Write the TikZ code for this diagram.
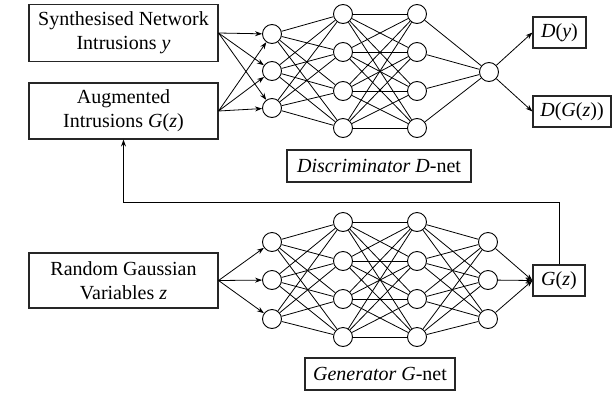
\documentclass[tikz,border=0pt]{standalone}
\usepackage{fontspec}
\setmainfont{Liberation Serif}
\usetikzlibrary{arrows.meta}
\begin{document}
\begin{tikzpicture}[x=1pt,y=-1pt, font=\fontsize{20}{24}\selectfont,
  box/.style={draw=black!85, line width=1.1pt, align=center, inner sep=0pt},
  neuron/.style={circle, draw, line width=0.9pt, minimum size=19pt, inner sep=0pt},
  link/.style={line width=0.8pt},
  arr/.style={line width=0.8pt, -{Stealth[length=7pt,width=5pt]}}]
\useasboundingbox (0,0) rectangle (613,394);
% boxes
\node[box, minimum width=189pt, minimum height=57pt] (b1) at (123.5,33) {Synthesised Network\\Intrusions \textit{y}};
\node[box, minimum width=189pt, minimum height=56pt] (b2) at (123.5,111) {Augmented\\Intrusions \textit{G}(\textit{z})};
\node[box, minimum width=189pt, minimum height=55pt] (b3) at (123.5,280.5) {Random Gaussian\\Variables \textit{z}};
\node[box, minimum width=53pt, minimum height=31pt] (dy) at (559.5,32.5) {\textit{D}(\textit{y})};
\node[box, minimum width=78pt, minimum height=31pt] (dgz) at (572,111.5) {\textit{D}(\textit{G}(\textit{z}))};
\node[box, minimum width=52pt, minimum height=31pt] (gz) at (559,280.5) {\textit{G}(\textit{z})};
\node[box, minimum width=184pt, minimum height=32pt] (dlab) at (379,166) {\textit{Discriminator D}-net};
\node[box, minimum width=150pt, minimum height=32pt] (glab) at (380,374) {\textit{Generator G}-net};
% discriminator neurons
\foreach \i/\y in {1/34,2/71,3/108} \node[neuron] (da\i) at (272,\y) {};
\foreach \i/\y in {1/14,2/52,3/91,4/128} {
  \node[neuron] (db\i) at (343,\y) {};
  \node[neuron] (dc\i) at (417,\y) {};
}
\node[neuron] (dout) at (489,72) {};
% generator neurons
\foreach \i/\y in {1/242,2/280,3/319} {
  \node[neuron] (ga\i) at (272,\y) {};
  \node[neuron] (gd\i) at (488,\y) {};
}
\foreach \i/\y in {1/222,2/261,3/299,4/337} {
  \node[neuron] (gb\i) at (343,\y) {};
  \node[neuron] (gc\i) at (417,\y) {};
}
% inputs
\foreach \i in {1,2,3} {
  \draw[arr] (b1.east) -- (da\i);
  \draw[arr] (b2.east) -- (da\i);
  \draw[arr] (b3.east) -- (ga\i);
  \draw[arr] (gd\i) -- (gz.west);
}
% hidden links
\foreach \i in {1,2,3} \foreach \j in {1,2,3,4} {
  \draw[link] (da\i) -- (db\j);
  \draw[link] (ga\i) -- (gb\j);
  \draw[link] (gc\j) -- (gd\i);
}
\foreach \i in {1,2,3,4} {
  \foreach \j in {1,2,3,4} {
    \draw[link] (db\i) -- (dc\j);
    \draw[link] (gb\i) -- (gc\j);
  }
  \draw[link] (dc\i) -- (dout);
}
\draw[arr] (dout) -- (dy.west);
\draw[arr] (dout) -- (dgz.west);
% feedback
\coordinate (fb) at (559,202);
\draw[arr] (gz.north) -- (fb) -| (b2.south);
\end{tikzpicture}
\end{document}
